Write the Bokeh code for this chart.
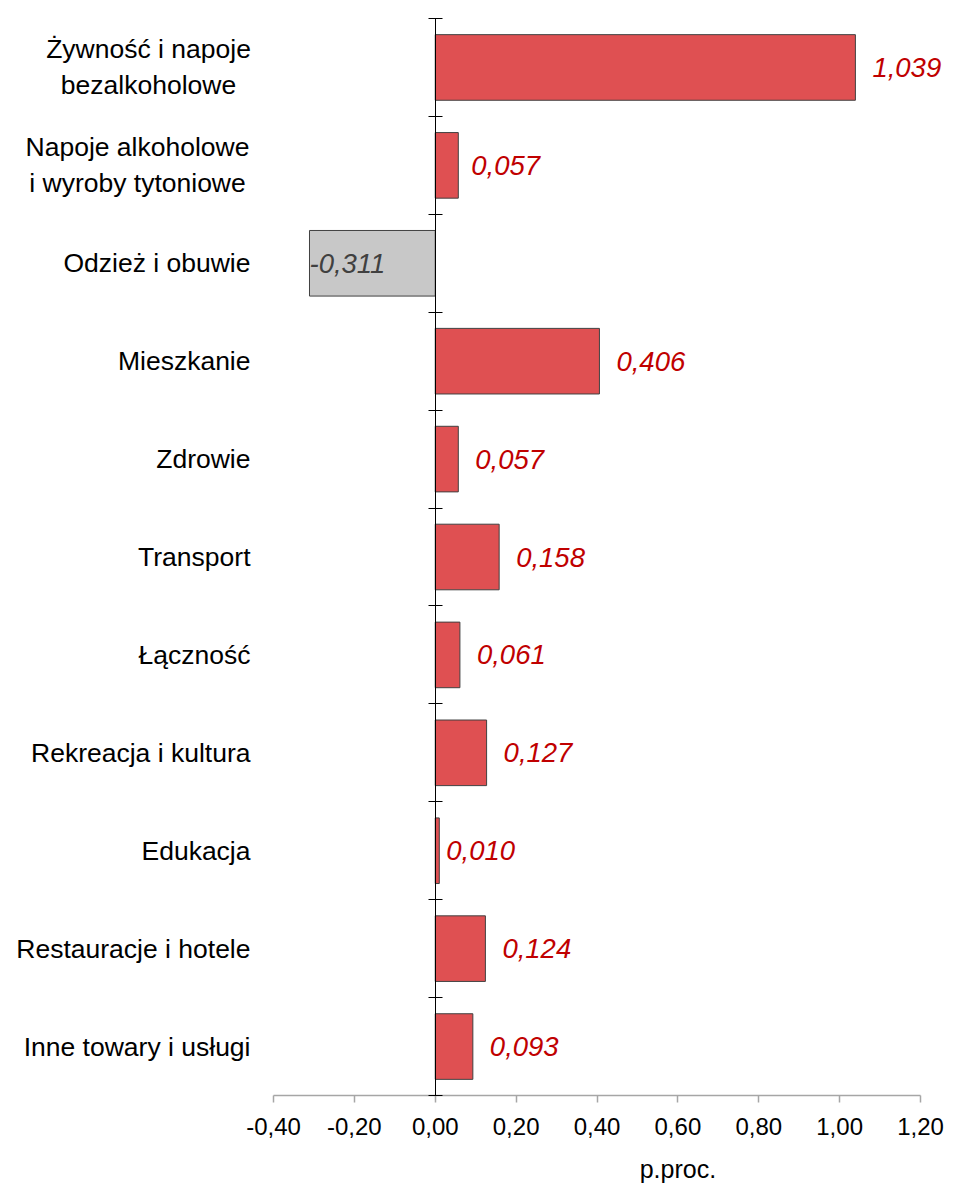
from bokeh.plotting import figure
from bokeh.models import (ColumnDataSource, LinearAxis, FixedTicker, Range1d,
                          LabelSet, Label, CustomJSTickFormatter)
from bokeh.core.properties import value
from bokeh.embed import file_html
from bokeh.resources import INLINE

# ---------------- data ----------------
categories = [
    "Żywność i napoje\nbezalkoholowe",
    "Napoje alkoholowe\ni wyroby tytoniowe",
    "Odzież i obuwie",
    "Mieszkanie",
    "Zdrowie",
    "Transport",
    "Łączność",
    "Rekreacja i kultura",
    "Edukacja",
    "Restauracje i hotele",
    "Inne towary i usługi",
]
values = [1.039, 0.057, -0.311, 0.406, 0.057, 0.158, 0.061, 0.127, 0.010, 0.124, 0.093]
x_ticks = [-0.4, -0.2, 0.0, 0.2, 0.4, 0.6, 0.8, 1.0, 1.2]
x_axis_title = "p.proc."

# ---------------- layout (pixels) & styles ----------------
W, H = 953, 1185
AX_LEFT, AX_RIGHT = 273, 920      # pixel x of first / last x tick
AX_TOP, AX_BOTTOM = 18, 1095      # pixel y of plot area top / bottom
FONT = "Liberation Sans"
POS_FILL = "#DF5052"
NEG_FILL = "#C8C8C8"
POS_TEXT = "#C00000"
NEG_TEXT = "#404040"
LABEL_DX_DEFAULT = 17
LABEL_DX_SPECIAL = {1: 13, 8: 7}   # label offsets as placed in the original

n = len(categories)
ys = [i + 0.5 for i in range(n)]
labels = [f"{v:.3f}".replace(".", ",") for v in values]
colors = [POS_FILL if v >= 0 else NEG_FILL for v in values]
dxs = [LABEL_DX_SPECIAL.get(i, LABEL_DX_DEFAULT) for i in range(n)]

# data ranges spanning the whole canvas so that texts outside the axes are not clipped
xs = (x_ticks[-1] - x_ticks[0]) / (AX_RIGHT - AX_LEFT)
ysc = n / (AX_BOTTOM - AX_TOP)
x_range = Range1d(x_ticks[0] - AX_LEFT * xs, x_ticks[-1] + (W - AX_RIGHT) * xs)
y_range = Range1d(n + (H - AX_BOTTOM) * ysc, 0 - AX_TOP * ysc)

src = ColumnDataSource(dict(y=ys, value=values, color=colors, label=labels))
pos_src = ColumnDataSource(dict(
    y=[y for y, v in zip(ys, values) if v >= 0],
    value=[v for v in values if v >= 0],
    label=[l for l, v in zip(labels, values) if v >= 0],
    dx=[d for d, v in zip(dxs, values) if v >= 0]))
neg_src = ColumnDataSource(dict(
    y=[y for y, v in zip(ys, values) if v < 0],
    value=[v for v in values if v < 0],
    label=[l for l, v in zip(labels, values) if v < 0]))

p = figure(
    frame_width=W, frame_height=H,
    x_range=x_range, y_range=y_range,
    output_backend="svg", toolbar_location=None,
    min_border=0, x_axis_location=None, y_axis_location=None,
)
p.outline_line_color = None
p.background_fill_color = "white"
p.border_fill_color = "white"
p.grid.visible = False

# bars
p.hbar(y="y", left=0, right="value", height=0.67, fill_color="color",
       line_color="#404040", line_width=1, source=src)

# x axis (value axis)
xa = LinearAxis(fixed_location=n, bounds=(x_ticks[0], x_ticks[-1]),
                ticker=FixedTicker(ticks=x_ticks),
                formatter=CustomJSTickFormatter(code="return tick.toFixed(2).replace('.', ',');"))
xa.axis_line_color = "#A6A6A6"
xa.axis_line_width = 1.5
xa.major_tick_line_color = "#A6A6A6"
xa.major_tick_line_width = 1.5
xa.major_tick_in = 0
xa.major_tick_out = 7
xa.minor_tick_line_color = None
xa.major_label_text_font = FONT
xa.major_label_text_font_size = "24px"
xa.major_label_text_color = "black"
xa.major_label_standoff = 15
p.add_layout(xa, "below")

# zero axis with category boundaries
za = LinearAxis(fixed_location=0, bounds=(0, n), ticker=FixedTicker(ticks=list(range(n + 1))))
za.axis_line_color = "black"
za.axis_line_width = 1
za.major_tick_line_color = "black"
za.major_tick_in = 7
za.major_tick_out = 7
za.minor_tick_line_color = None
za.major_label_text_font_size = "0px"
za.major_label_text_alpha = 0
p.add_layout(za, "left")

# category labels
two_line_center = {0: -125, 1: -136}
for i, (cat, y) in enumerate(zip(categories, ys)):
    if "\n" in cat:
        lab = Label(x=x_ticks[0], y=y, x_offset=two_line_center.get(i, -130),
                    text=cat, text_align="center", text_baseline="middle",
                    text_font=FONT, text_font_size="26.5px", text_color="black",
                    text_line_height=1.2)
    else:
        lab = Label(x=x_ticks[0], y=y, x_offset=-23, text=cat,
                    text_align="right", text_baseline="middle",
                    text_font=FONT, text_font_size="26.5px", text_color="black")
    p.add_layout(lab)

# value labels
p.add_layout(LabelSet(x="value", y="y", text="label", source=pos_src,
                      x_offset="dx", text_align="left", text_baseline="middle",
                      text_font=value(FONT), text_font_size="27.5px",
                      text_font_style="italic", text_color=POS_TEXT))
p.add_layout(LabelSet(x="value", y="y", text="label", source=neg_src,
                      x_offset=0, text_align="left", text_baseline="middle",
                      text_font=value(FONT), text_font_size="27.5px",
                      text_font_style="italic", text_color=NEG_TEXT))

# axis title
p.add_layout(Label(x=0.6, y=n, y_offset=-73, text=x_axis_title,
                   text_align="center", text_baseline="middle",
                   text_font=FONT, text_font_size="25px", text_color="black"))

open("out.html", "w").write(file_html(p, INLINE))
